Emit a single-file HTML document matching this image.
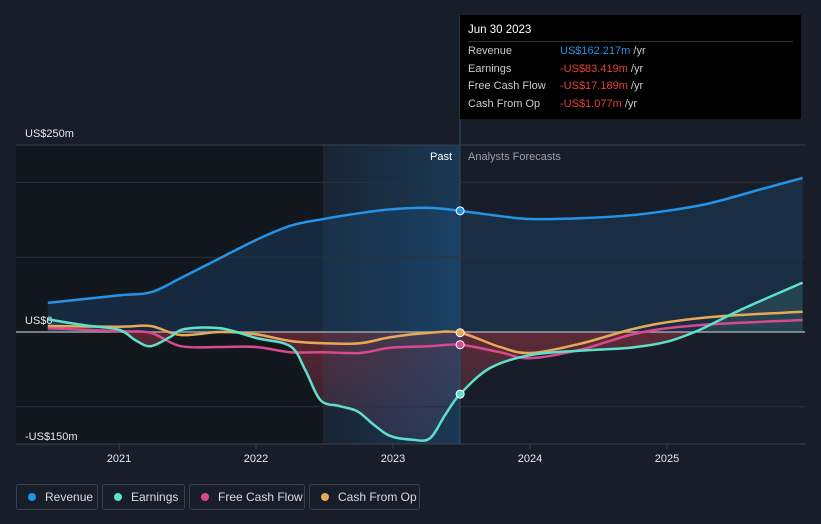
<!DOCTYPE html>
<html><head><meta charset="utf-8"><style>
body{margin:0;background:#181e29;font-family:"Liberation Sans",sans-serif;}
svg{display:block}
.leg{position:absolute;top:484px;height:26px;border:1px solid #3a4150;border-radius:3px;color:#d8dbe0;font-size:12px;line-height:24px;padding:0 0 0 28px;box-sizing:border-box;white-space:nowrap;overflow:hidden}
.leg i{position:absolute;left:11px;top:8px;width:8px;height:8px;border-radius:50%}
</style></head><body>
<div style="position:relative;width:821px;height:524px;overflow:hidden">
<svg id="c" width="821" height="524"></svg>
<div style="position:absolute;left:460px;top:15px;width:341px;height:104px;background:#000;color:#ccc;font-size:11px">
<div style="position:absolute;left:8px;top:9px;color:#fff;font-size:11.5px">Jun 30 2023</div>
<div style="position:absolute;left:8px;top:26px;width:325px;border-top:1px solid #333"></div>
<div style="position:absolute;left:8px;top:28px;line-height:17.5px">Revenue<br>Earnings<br>Free Cash Flow<br>Cash From Op</div>
<div style="position:absolute;left:100px;top:28px;line-height:17.5px"><span style="color:#2394e8">US$162.217m</span> /yr<br><span style="color:#e8413a">-US$83.419m</span> /yr<br><span style="color:#e8413a">-US$17.189m</span> /yr<br><span style="color:#e8413a">-US$1.077m</span> /yr</div>
</div>
<div class="leg" style="left:16px;width:82px"><i style="background:#2394e8"></i>Revenue</div>
<div class="leg" style="left:102px;width:83px"><i style="background:#5fe0cc"></i>Earnings</div>
<div class="leg" style="left:189px;width:116px"><i style="background:#d94a8c"></i>Free Cash Flow</div>
<div class="leg" style="left:309px;width:111px"><i style="background:#e8a85a"></i>Cash From Op</div>
</div>
<script>
const revT=[2020.48,2021.0,2021.23,2021.45,2021.74,2022,2022.25,2022.49,2022.76,2022.98,2023.27,2023.49,2023.78,2024,2024.36,2024.73,2025,2025.31,2025.67,2025.99];
const revV=[39,49,53,72,99,123,142,151,159,164,166,162,155,151,152,156,162,172,190,206];
const earnT=[2020.48,2020.75,2021.0,2021.12,2021.23,2021.37,2021.48,2021.74,2022,2022.25,2022.36,2022.47,2022.61,2022.74,2022.86,2022.98,2023.14,2023.27,2023.38,2023.49,2023.71,2024,2024.36,2024.73,2025,2025.24,2025.53,2025.99];
const earnV=[17,9,3,-11,-19,-7,4,5,-8,-19,-51,-91,-99,-106,-124,-139,-144,-142,-111,-83,-48,-31,-25,-21,-13,3,29,66];
const cfT=[2020.48,2021.0,2021.23,2021.45,2021.74,2022,2022.25,2022.49,2022.76,2022.98,2023.27,2023.49,2023.78,2024,2024.36,2024.73,2025,2025.39,2025.99];
const fcfV=[5,1,-1,-19,-20,-20,-27,-27,-28,-21,-19,-17,-27,-35,-24,-4,5,11,16];
const cfoV=[8,7,8,-4,0,-3,-12,-15,-15,-7,-1,-1,-20,-28,-16,3,13,21,27];
const yTicks=[250,0,-150];const yTickLabels=["US$250m","US$0","-US$150m"];
const xTicks=[2021,2022,2023,2024,2025];
const X=t=>119+(t-2021)*137, Y=v=>332-v*0.748;
const NS="http://www.w3.org/2000/svg",svg=document.getElementById('c');
function el(tag,a,p){const e=document.createElementNS(NS,tag);for(const k in a)e.setAttribute(k,a[k]);(p||svg).appendChild(e);return e;}
function path(T,V){let pts=T.map((t,i)=>[X(t),Y(V[i])]);let d="M"+pts[0];for(let i=0;i<pts.length-1;i++){const p0=pts[i-1]||pts[i],p1=pts[i],p2=pts[i+1],p3=pts[i+2]||p2;d+=`C${p1[0]+(p2[0]-p0[0])/6},${p1[1]+(p2[1]-p0[1])/6} ${p2[0]-(p3[0]-p1[0])/6},${p2[1]-(p3[1]-p1[1])/6} ${p2[0]},${p2[1]}`;}return d;}
const defs=el('defs',{});
defs.innerHTML='<linearGradient id="pg" x1="0" x2="1"><stop offset="0" stop-color="#1c4a72" stop-opacity="0.15"/><stop offset="1" stop-color="#1c5585" stop-opacity="0.5"/></linearGradient><linearGradient id="rg" x1="0" x2="0" y1="0" y2="1"><stop offset="0" stop-color="#b0353a" stop-opacity="0.6"/><stop offset="1" stop-color="#5a3550" stop-opacity="0.4"/></linearGradient><clipPath id="neg"><rect x="0" y="332" width="821" height="120"/></clipPath><clipPath id="pos"><rect x="0" y="0" width="821" height="332"/></clipPath>';
el('rect',{x:16,y:145,width:307,height:299,fill:'#12161d'});
const y0=Y(0);
let a=el('path',{d:path(revT,revV)+`L${X(2025.99)},${y0}L${X(2020.48)},${y0}Z`,fill:'#1b3a5a','fill-opacity':0.55});
a=el('path',{d:path(earnT,earnV)+`L${X(2025.99)},${y0}L${X(2020.48)},${y0}Z`,fill:'url(#rg)','clip-path':'url(#neg)'});
el('path',{d:path(earnT,earnV)+`L${X(2025.99)},${y0}L${X(2020.48)},${y0}Z`,fill:'#3a6a6a','fill-opacity':0.35,'clip-path':'url(#pos)'});
a=el('rect',{x:323,y:145,width:137,height:299,fill:'url(#pg)'});
[200,100,-100].forEach(v=>el('line',{x1:16,x2:805,y1:Y(v),y2:Y(v),stroke:'#2a303b'}));
el('line',{x1:16,x2:805,y1:145,y2:145,stroke:'#3a414d'});
el('line',{x1:16,x2:805,y1:444,y2:444,stroke:'#3a414d'});
el('line',{x1:16,x2:805,y1:y0,y2:y0,stroke:'#9aa0a8','stroke-width':1.5});
el('line',{x1:460,x2:460,y1:15,y2:444,stroke:'#2c4a66'});
yTicks.forEach((v,i)=>{const t=el('text',{x:25,y:Y(v)-8-(v==-150?-4:0),fill:'#e6e8ec','font-size':11});t.textContent=yTickLabels[i];});
xTicks.forEach(v=>{el('line',{x1:X(v),x2:X(v),y1:444,y2:449,stroke:'#3a414d'});const t=el('text',{x:X(v),y:462,fill:'#e6e8ec','font-size':11,'text-anchor':'middle'});t.textContent=v;});
let t=el('text',{x:452,y:160,fill:'#fff','font-size':11,'text-anchor':'end'});t.textContent='Past';
t=el('text',{x:468,y:160,fill:'#9aa0a8','font-size':11});t.textContent='Analysts Forecasts';
const S=[[revT,revV,'#2394e8','revenue-line'],[cfT,fcfV,'#d94a8c','fcf-line'],[cfT,cfoV,'#e8a85a','cfo-line'],[earnT,earnV,'#5fe0cc','earnings-line']];
S.forEach(s=>{const p=el('path',{d:path(s[0],s[1]),fill:'none',stroke:s[2],'stroke-width':2.5});
const i=s[0].indexOf(2023.49);const c=el('circle',{cx:X(2023.49),cy:Y(s[1][i]),r:4,fill:s[2],stroke:'#fff','stroke-width':1});});
</script>
</body></html>
